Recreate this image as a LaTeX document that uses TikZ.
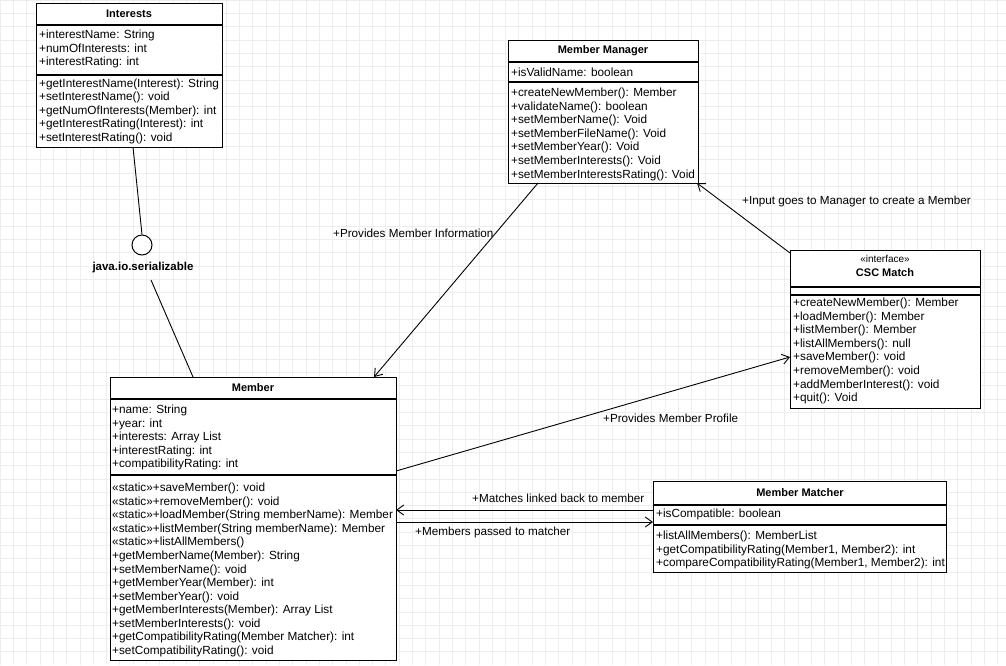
\documentclass[tikz,border=0pt]{standalone}
\usepackage{fontspec}
\setmainfont{Liberation Sans}
\usetikzlibrary{arrows.meta}
\tikzset{
  umlbox/.style={draw, line width=1.2pt, fill=white, inner sep=0pt, anchor=north west},
  divider/.style={line width=1.2pt},
  ctitle/.style={font=\bfseries\fontsize{11}{13}\selectfont, inner sep=0pt},
  members/.style={font=\fontsize{11.8}{13.55}\selectfont, align=left, anchor=north west, inner sep=0pt},
  assoc/.style={line width=0.9pt, -{Straight Barb[length=7pt,width=10pt]}},
  plainline/.style={line width=0.9pt},
  lbl/.style={font=\fontsize{11.7}{13}\selectfont, inner sep=0pt}
}
\begin{document}
\begin{tikzpicture}[x=1pt,y=-1pt]
\useasboundingbox (0,0) rectangle (1006,665);
\fill[white] (0,0) rectangle (1006,665);
\draw[gray!14, line width=0.5pt, step=13.3pt] (0,0) grid (1006,665);

% Interests
\node[umlbox, minimum width=186pt, minimum height=144pt] (int) at (36,3) {};
\draw[divider] (36,25) -- (222,25) (36,75) -- (222,75);
\node[ctitle] (intT) at (129,14) {Interests};
\node[members] (intA) at (39,30) {+interestName: String\\+numOfInterests: int\\+interestRating: int};
\node[members] (intM) at (39,78.5) {+getInterestName(Interest): String\\+setInterestName(): void\\+getNumOfInterests(Member): int\\+getInterestRating(Interest): int\\+setInterestRating(): void};

% Member Manager
\node[umlbox, minimum width=190pt, minimum height=143pt] (mgr) at (508,40) {};
\draw[divider] (508,62) -- (698,62) (508,82) -- (698,82);
\node[ctitle] (mgrT) at (603,51) {Member Manager};
\node[members] (mgrA) at (511,68) {+isValidName: boolean};
\node[members] (mgrM) at (511,88) {+createNewMember(): Member\\+validateName(): boolean\\+setMemberName(): Void\\+setMemberFileName(): Void\\+setMemberYear(): Void\\+setMemberInterests(): Void\\+setMemberInterestsRating(): Void};

% CSC Match
\node[umlbox, minimum width=190pt, minimum height=158pt] (csc) at (790,250) {};
\draw[divider] (790,287) -- (980,287) (790,295) -- (980,295);
\node[font=\fontsize{10}{12}\selectfont, inner sep=0pt] (cscS) at (885,259) {«interface»};
\node[ctitle] (cscT) at (885,273) {CSC Match};
\node[members] (cscM) at (793,298) {+createNewMember(): Member\\+loadMember(): Member\\+listMember(): Member\\+listAllMembers(): null\\+saveMember(): void\\+removeMember(): void\\+addMemberInterest(): void\\+quit(): Void};

% Member
\node[umlbox, minimum width=286pt, minimum height=283pt] (mem) at (110,377) {};
\draw[divider] (110,399) -- (396,399) (110,475) -- (396,475);
\node[ctitle] (memT) at (253,388) {Member};
\node[members] (memA) at (112,405) {+name: String\\+year: int\\+interests: Array List\\+interestRating: int\\+compatibilityRating: int};
\node[members] (memM) at (112,483) {«static»+saveMember(): void\\«static»+removeMember(): void\\«static»+loadMember(String memberName): Member\\«static»+listMember(String memberName): Member\\«static»+listAllMembers()\\+getMemberName(Member): String\\+setMemberName(): void\\+getMemberYear(Member): int\\+setMemberYear(): void\\+getMemberInterests(Member): Array List\\+setMemberInterests(): void\\+getCompatibilityRating(Member Matcher): int\\+setCompatibilityRating(): void};

% Member Matcher
\node[umlbox, minimum width=293pt, minimum height=91pt] (mat) at (653,481) {};
\draw[divider] (653,505) -- (946,505) (653,525) -- (946,525);
\node[ctitle] (matT) at (800,493) {Member Matcher};
\node[members] (matA) at (656,509) {+isCompatible: boolean};
\node[members] (matM) at (656,531) {+listAllMembers(): MemberList\\+getCompatibilityRating(Member1, Member2): int\\+compareCompatibilityRating(Member1, Member2): int};

% lollipop
\node[draw, circle, line width=1pt, minimum size=20pt, inner sep=0pt, fill=white] (ser) at (142,245) {};
\node[inner sep=0pt, font=\bfseries\fontsize{11.5}{13}\selectfont] (serL) at (143,268) {java.io.serializable};
\coordinate (intB) at (133,147);
\coordinate (serB) at (151,280);
\coordinate (memT1) at (193,377);
\draw[plainline] (intB) -- (ser.north);
\draw[plainline] (serB) -- (memT1);

% connectors
\coordinate (mgrB) at (538,183);
\coordinate (memTop) at (374,377);
\draw[assoc] (mgrB) -- (memTop);
\node[lbl, anchor=west] (l1) at (333,233) {+Provides Member Information};

\coordinate (cscTL) at (790,253);
\coordinate (mgrBR) at (697,183);
\draw[assoc] (cscTL) -- (mgrBR);
\node[lbl, anchor=west] (l2) at (742,201) {+Input goes to Manager to create a Member};

\coordinate (memR1) at (396,471);
\coordinate (cscL) at (790,357);
\draw[assoc] (memR1) -- (cscL);
\node[lbl, anchor=west] (l3) at (603,418) {+Provides Member Profile};

\coordinate (matL1) at (653,510);
\coordinate (memR2) at (396,510);
\draw[assoc] (matL1) -- (memR2);
\node[lbl, anchor=west] (l4) at (472,498) {+Matches linked back to member};

\coordinate (memR3) at (396,522);
\coordinate (matL2) at (653,522);
\draw[assoc] (memR3) -- (matL2);
\node[lbl, anchor=west] (l5) at (415,532) {+Members passed to matcher};
\end{tikzpicture}
\end{document}
